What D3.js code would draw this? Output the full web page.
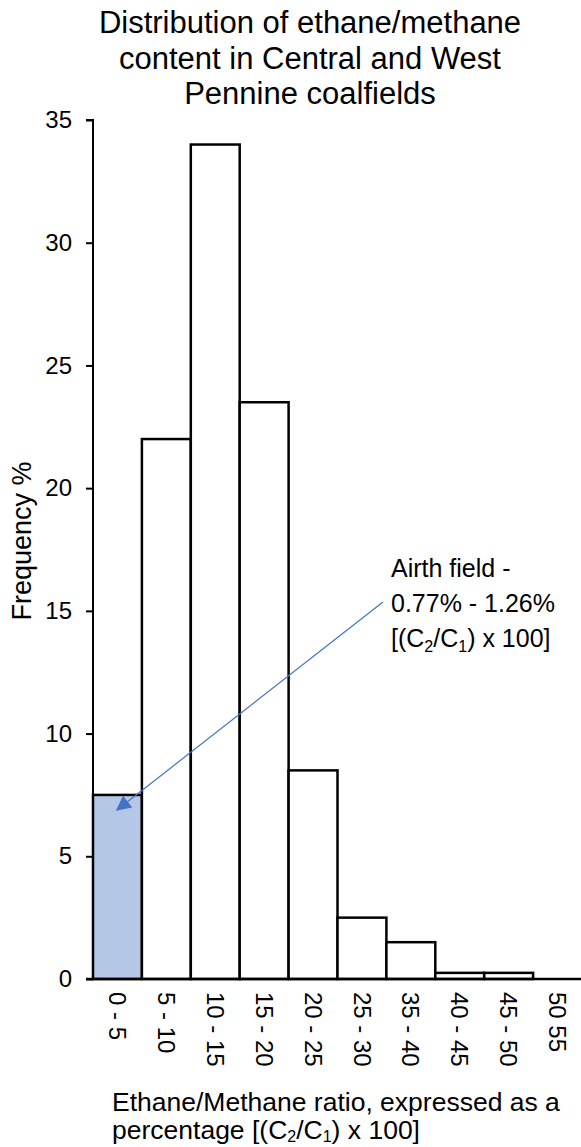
<!DOCTYPE html>
<html>
<head>
<meta charset="utf-8">
<script src="https://cdn.jsdelivr.net/npm/d3@7"></script>
<style>
  body { margin: 0; background: #fff; }
  text { font-family: Arial, "Liberation Sans", sans-serif; }
</style>
</head>
<body>
<div id="chart"></div>
<script>
// data
var categories = ["0 - 5", "5 - 10", "10 - 15", "15 - 20", "20 - 25", "25 - 30", "35 - 40", "40 - 45", "45 - 50", "50  55"];
var frequency = [7.5, 22, 34, 23.5, 8.5, 2.5, 1.5, 0.25, 0.25, 0];
var highlighted = ["0 - 5"];
var yTicks = [0, 5, 10, 15, 20, 25, 30, 35];
var titleLines = ["Distribution of ethane/methane", "content in Central and West", "Pennine coalfields"];

var W = 581, H = 1147;
var plotLeft = 93, plotRight = 582, plotTop = 120, plotBottom = 979;

var svg = d3.select("#chart").append("svg")
    .attr("width", W)
    .attr("height", H);

var x = d3.scaleBand()
    .domain(categories)
    .range([plotLeft, plotRight])
    .padding(0);

var y = d3.scaleLinear()
    .domain([0, 35])
    .range([plotBottom, plotTop]);

// bars
svg.append("g")
  .selectAll("rect")
  .data(categories)
  .enter().append("rect")
    .attr("x", function(d) { return x(d); })
    .attr("y", function(d, i) { return y(frequency[i]); })
    .attr("width", x.bandwidth())
    .attr("height", function(d, i) { return plotBottom - y(frequency[i]); })
    .attr("fill", function(d) { return highlighted.indexOf(d) >= 0 ? "#b4c7e7" : "#fff"; })
    .attr("stroke", "#000")
    .attr("stroke-width", 2.5);

// y axis
var yAxis = svg.append("g")
    .attr("transform", "translate(" + plotLeft + ",0)")
    .call(d3.axisLeft(y).tickValues(yTicks).tickSize(7).tickPadding(14));
yAxis.selectAll("path, line").attr("stroke", "#000").attr("stroke-width", 2);
yAxis.select(".domain").attr("d", "M-7," + plotTop + "H0V" + plotBottom);
yAxis.selectAll("text")
    .attr("font-size", 24)
    .attr("font-family", "Arial, 'Liberation Sans', sans-serif")
    .attr("fill", "#000");

// baseline
svg.append("line")
    .attr("x1", plotLeft - 7).attr("x2", W)
    .attr("y1", plotBottom).attr("y2", plotBottom)
    .attr("stroke", "#000").attr("stroke-width", 2.5);

// x labels, rotated
svg.append("g")
  .selectAll("text")
  .data(categories)
  .enter().append("text")
    .attr("transform", function(d) { return "translate(" + (x(d) + x.bandwidth() / 2) + "," + (plotBottom + 13) + ") rotate(90)"; })
    .attr("dy", "0.35em")
    .attr("font-size", 24)
    .attr("fill", "#000")
    .text(function(d) { return d; });

// title
svg.append("g")
  .selectAll("text")
  .data(titleLines)
  .enter().append("text")
    .attr("x", 310)
    .attr("y", function(d, i) { return 33 + i * 35.5; })
    .attr("text-anchor", "middle")
    .attr("font-size", 31)
    .attr("fill", "#000")
    .text(function(d) { return d; });

// y label
svg.append("text")
    .attr("transform", "translate(31,541) rotate(-90)")
    .attr("text-anchor", "middle")
    .attr("font-size", 27)
    .attr("fill", "#000")
    .text("Frequency %");

// x title
var xt = svg.append("text")
    .attr("font-size", 26.5)
    .attr("fill", "#000");
xt.append("tspan").attr("x", 112).attr("y", 1111).text("Ethane/Methane ratio, expressed as a");
var l2 = xt.append("tspan").attr("x", 112).attr("y", 1139);
l2.append("tspan").text("percentage [(C");
l2.append("tspan").attr("font-size", 16).attr("dy", 3).text("2");
l2.append("tspan").attr("dy", -3).text("/C");
l2.append("tspan").attr("font-size", 16).attr("dy", 3).text("1");
l2.append("tspan").attr("dy", -3).text(") x 100]");

// annotation
var defs = svg.append("defs");
defs.append("marker")
    .attr("id", "arrow")
    .attr("viewBox", "0 0 10 10")
    .attr("refX", 9).attr("refY", 5)
    .attr("markerWidth", 17).attr("markerHeight", 15)
    .attr("markerUnits", "userSpaceOnUse")
    .attr("orient", "auto")
  .append("path")
    .attr("d", "M0,0L10,5L0,10z")
    .attr("fill", "#4472c4");

svg.append("line")
    .attr("x1", 383).attr("y1", 602)
    .attr("x2", x("0 - 5") + 24).attr("y2", y(7.5) + 15)
    .attr("stroke", "#4472c4")
    .attr("stroke-width", 1.2)
    .attr("marker-end", "url(#arrow)");

var ann = svg.append("text")
    .attr("font-family", "'Open Sans', 'Noto Sans', sans-serif")
    .attr("font-size", 25)
    .attr("fill", "#000");
ann.append("tspan").attr("x", 391).attr("y", 577).text("Airth field -");
ann.append("tspan").attr("x", 391).attr("y", 612).text("0.77% - 1.26%");
var a3 = ann.append("tspan").attr("x", 391).attr("y", 647);
a3.append("tspan").text("[(C");
a3.append("tspan").attr("font-size", 16).attr("dy", 5).text("2");
a3.append("tspan").attr("dy", -5).text("/C");
a3.append("tspan").attr("font-size", 16).attr("dy", 5).text("1");
a3.append("tspan").attr("dy", -5).text(") x 100]");
</script>
</body>
</html>
